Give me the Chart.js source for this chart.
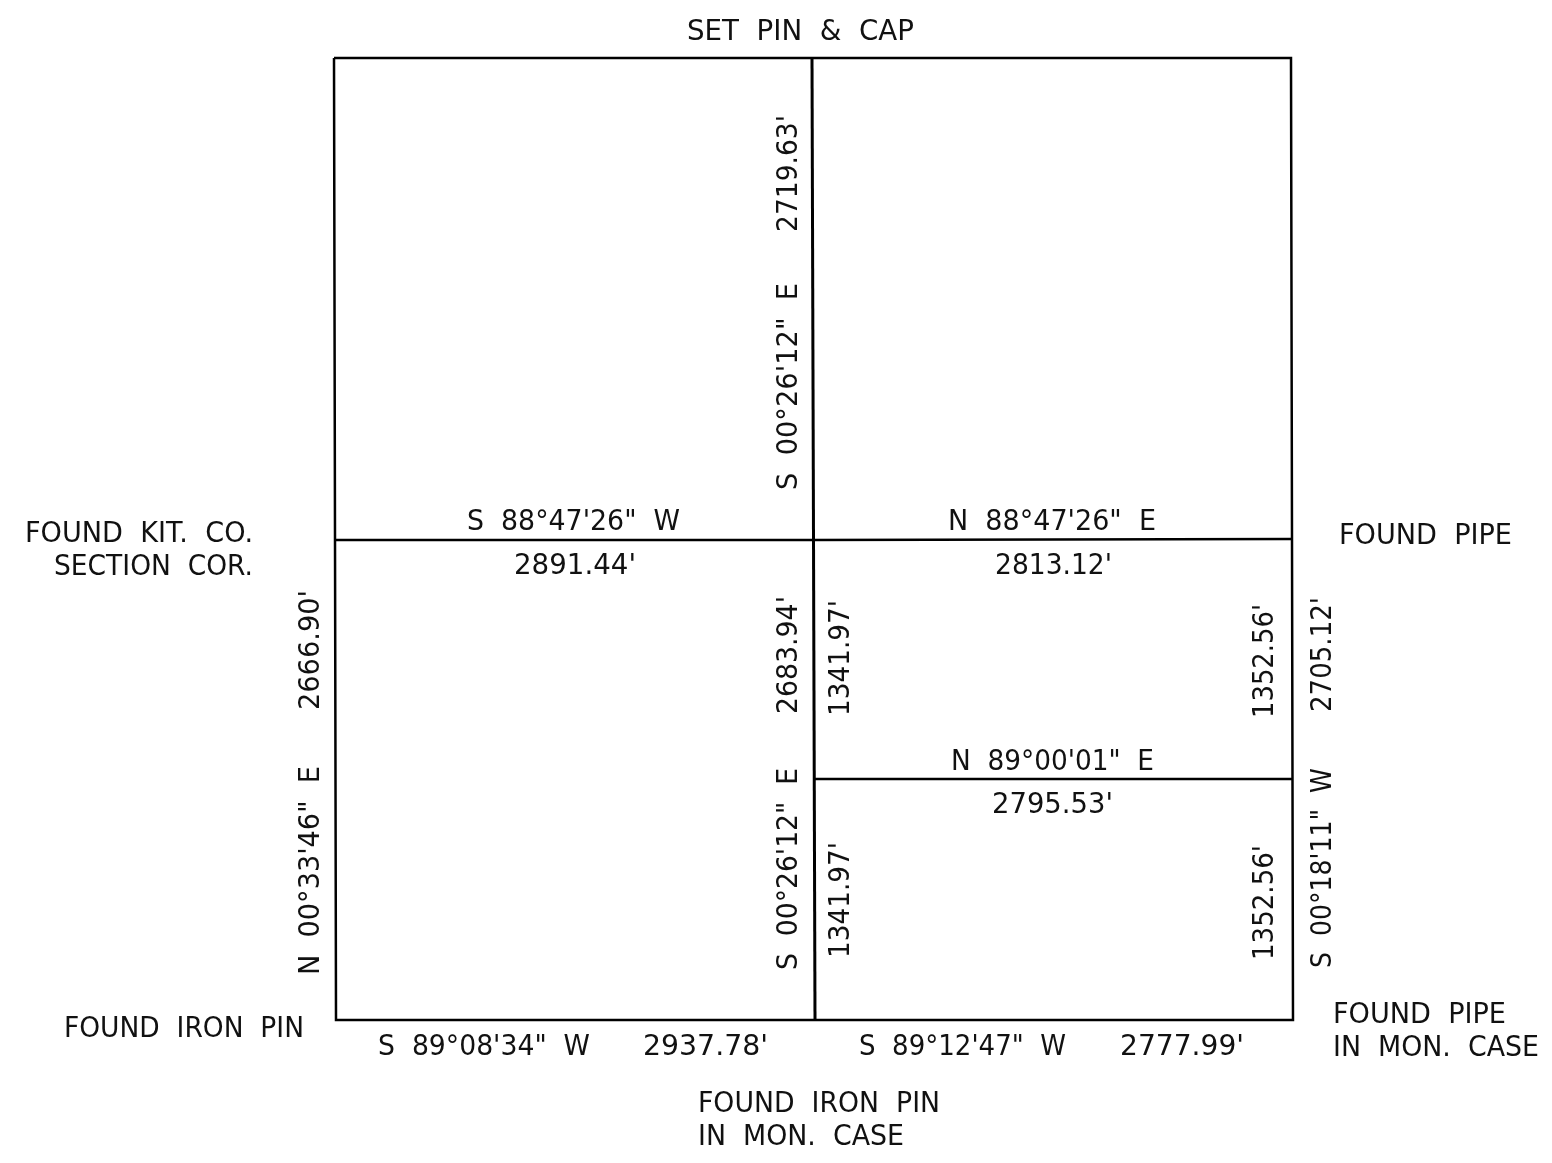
<!DOCTYPE html>
<html>
<head>
<meta charset="utf-8">
<title>Survey plat</title>
<script src="https://cdn.jsdelivr.net/npm/chart.js@4/dist/chart.umd.min.js"></script>
<style>
  html, body { margin: 0; padding: 0; background: #fff; }
  canvas { display: block; }
</style>
</head>
<body>
<canvas id="plat" width="1552" height="1163"></canvas>
<script>
// Section lines (drawing units = picture pixels)
const boundaryX = [334, 1291, 1293, 336, 334];
const boundaryY = [58, 58, 1020, 1020, 58];
const centerX = [812, 815];
const centerY = [58, 1020];
const midX = [334, 812, 1292];
const midY = [540, 540, 539];
const lowerX = [815, 1292];
const lowerY = [779, 779];

// Labels: text, centre, length along the text, angle
const labelText = [
  'SET  PIN  &  CAP',
  'FOUND  KIT.  CO.', 'SECTION  COR.',
  'S  88°47\'26"  W', '2891.44\'',
  'N  88°47\'26"  E', '2813.12\'',
  'FOUND  PIPE',
  'N  89°00\'01"  E', '2795.53\'',
  'FOUND  IRON  PIN',
  'S  89°08\'34"  W', '2937.78\'',
  'S  89°12\'47"  W', '2777.99\'',
  'FOUND  PIPE', 'IN  MON.  CASE',
  'FOUND  IRON  PIN', 'IN  MON.  CASE',
  '2719.63\'', 'S  00°26\'12"  E',
  '2683.94\'', 'S  00°26\'12"  E',
  '1341.97\'', '1341.97\'',
  '1352.56\'', '1352.56\'',
  '2705.12\'', 'S  00°18\'11"  W',
  '2666.90\'', 'N  00°33\'46"  E'
];
const labelX = [
  800.5,
  139, 153.5,
  573.5, 575,
  1052, 1053.5,
  1425.5,
  1052.5, 1052.5,
  184,
  484, 705.5,
  962.5, 1182,
  1419.5, 1436,
  819, 801,
  786.5, 786.5,
  786.5, 786.5,
  839, 839,
  1263, 1263,
  1320.5, 1320.5,
  308.5, 308.5
];
const labelY = [
  30,
  532, 565,
  520, 564,
  520, 564,
  534,
  760, 803,
  1027,
  1045, 1045,
  1045, 1045,
  1013, 1046,
  1102, 1135,
  173.5, 386.5,
  655, 869,
  658, 900,
  661, 902.5,
  654.5, 868,
  650, 870.5
];
const labelLen = [
  227,
  228, 199,
  213, 122,
  208, 117,
  173,
  203, 121,
  240,
  212, 125,
  207, 124,
  173, 206,
  242, 206,
  117, 207,
  118, 202,
  116, 116,
  114, 115,
  115, 200,
  120, 209
];
const labelAngle = [
  0, 0, 0, 0, 0, 0, 0, 0, 0, 0, 0, 0, 0, 0, 0, 0, 0, 0, 0,
  -90, -90, -90, -90, -90, -90, -90, -90, -90, -90, -90, -90
];

const FONT_SIZE = 28;

function toPoints(xs, ys){
  return xs.map((x, i) => ({ x, y: ys[i] }));
}

function lineSet(label, xs, ys, width){
  return {
    label,
    data: toPoints(xs, ys),
    showLine: true,
    borderColor: '#000',
    borderWidth: width,
    pointRadius: 0,
    pointHoverRadius: 0,
    tension: 0
  };
}

// Draws the bearing and distance labels in drawing units, stretched to the measured length
const platLabels = {
  id: 'platLabels',
  afterDatasetsDraw(chart){
    const { ctx, scales } = chart;
    ctx.save();
    ctx.fillStyle = '#111';
    ctx.font = FONT_SIZE + 'px "DejaVu Sans"';
    ctx.textAlign = 'center';
    ctx.textBaseline = 'alphabetic';
    labelText.forEach((txt, i) => {
      const w = ctx.measureText(txt).width;
      ctx.save();
      ctx.translate(scales.x.getPixelForValue(labelX[i]), scales.y.getPixelForValue(labelY[i]));
      ctx.rotate(labelAngle[i] * Math.PI / 180);
      ctx.scale(labelLen[i] / w, 1);
      ctx.fillText(txt, 0, FONT_SIZE * 0.365);
      ctx.restore();
    });
    ctx.restore();
  }
};

new Chart(document.getElementById('plat').getContext('2d'), {
  type: 'scatter',
  data: {
    datasets: [
      lineSet('Boundary', boundaryX, boundaryY, 2.5),
      lineSet('Center line', centerX, centerY, 3),
      lineSet('Mid line', midX, midY, 2.5),
      lineSet('Lower line', lowerX, lowerY, 2.5)
    ]
  },
  options: {
    responsive: false,
    animation: false,
    layout: { padding: 0 },
    plugins: { legend: { display: false }, tooltip: { enabled: false }, title: { display: false } },
    scales: {
      x: { type: 'linear', min: 0, max: 1552, display: false },
      y: { type: 'linear', min: 0, max: 1163, reverse: true, display: false }
    }
  },
  plugins: [platLabels]
});
</script>
</body>
</html>
